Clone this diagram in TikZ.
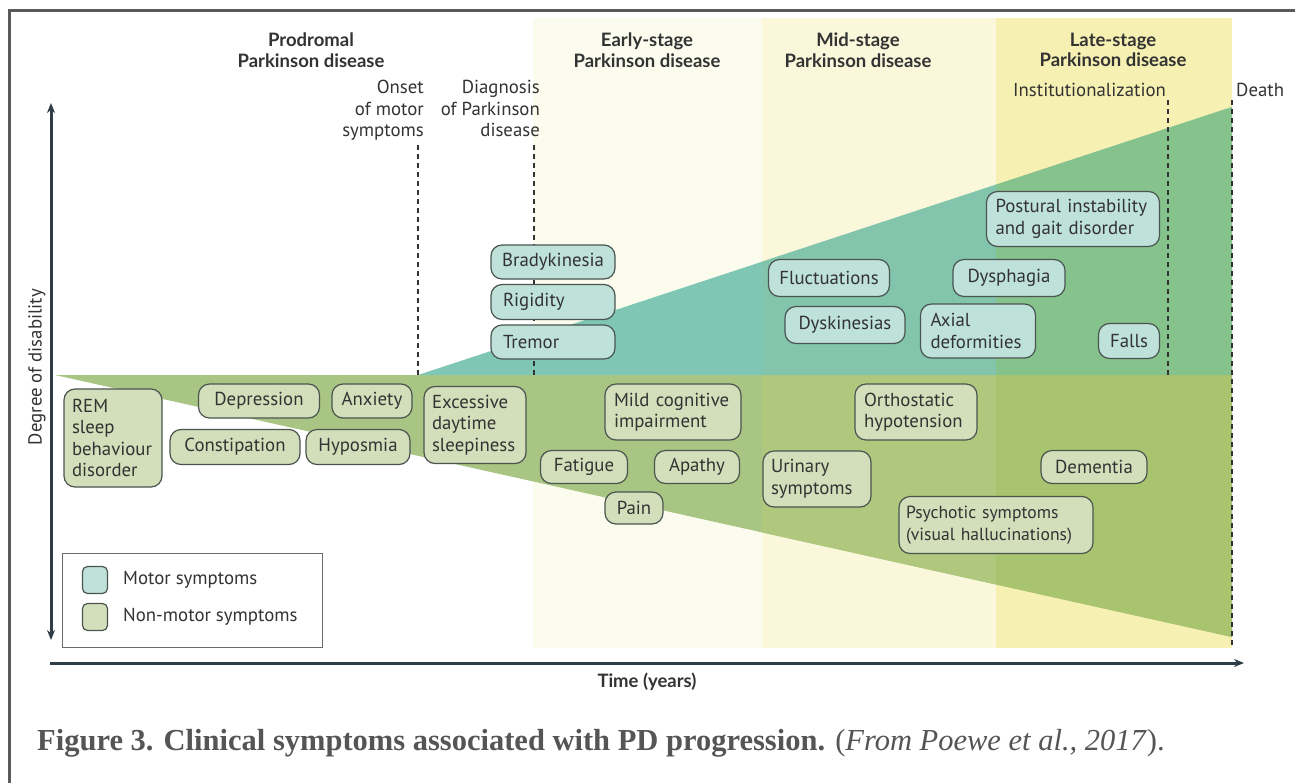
\documentclass[tikz,border=0pt]{standalone}
\usepackage{fontspec}
\setmainfont{PT Sans}
\newfontfamily\hdrfont{Lato}
\newfontfamily\capfont{Liberation Serif}
\usetikzlibrary{arrows.meta}
\definecolor{framegray}{HTML}{5A5A5A}
\definecolor{earlyband}{HTML}{FCFCEE}
\definecolor{midband}{HTML}{FAF7DA}
\definecolor{lateband}{HTML}{F6F0B3}
\definecolor{tealA}{HTML}{80C6B5}
\definecolor{tealB}{HTML}{82C4AC}
\definecolor{tealC}{HTML}{86C28C}
\definecolor{greenA}{HTML}{A8C584}
\definecolor{greenB}{HTML}{AFC87D}
\definecolor{greenC}{HTML}{A9C46E}
\definecolor{motorfill}{HTML}{BEE1DA}
\definecolor{nmfill}{HTML}{D3DEBA}
\definecolor{boxline}{HTML}{4A5550}
\definecolor{txt}{HTML}{333333}
\definecolor{axiscol}{HTML}{2F3E46}
\definecolor{capgray}{HTML}{555555}
\definecolor{leggray}{HTML}{6A6A6A}
\newcommand{\boxfont}{\fontsize{18.8}{21.5}\selectfont}
\newcommand{\hdrsize}{\hdrfont\bfseries\fontsize{18.5}{20.5}\selectfont}
\tikzset{
  symbox/.style={draw=boxline, line width=1.2pt, rounded corners=11pt, inner sep=0pt, font=\boxfont, text=txt},
  motor/.style={symbox, fill=motorfill},
  nonmotor/.style={symbox, fill=nmfill},
  lefttext/.style={align=left, text width=#1},
  hdr/.style={font=\hdrsize, align=center, text=txt},
  lbl/.style={font=\boxfont, text=txt, inner sep=0pt},
  vline/.style={draw=txt, line width=1.1pt, dash pattern=on 5pt off 4pt},
  axis/.style={draw=axiscol, line width=3pt}
}
\begin{document}
\begin{tikzpicture}[x=1pt,y=-1pt]
\useasboundingbox (0,0) rectangle (1295,782);
\clip (0,0) rectangle (1295,782);
\fill[white] (0,0) rectangle (1295,782);
% stage bands
\fill[earlyband] (533,18) rectangle (762,648);
\fill[midband] (762,18) rectangle (996,648);
\fill[lateband] (996,18) rectangle (1232,648);
% triangles
\coordinate (nmA) at (55,375);
\coordinate (nmB) at (1232,375);
\coordinate (nmC) at (1232,637);
\coordinate (mA) at (418,375);
\coordinate (mB) at (1232,107);
\coordinate (mC) at (1232,375);
\fill[greenA] (nmA) -- (nmB) -- (nmC) -- cycle;
\fill[tealA] (mA) -- (mB) -- (mC) -- cycle;
\begin{scope}
  \clip (762,18) rectangle (996,648);
  \fill[greenB] (nmA) -- (nmB) -- (nmC) -- cycle;
  \fill[tealB] (mA) -- (mB) -- (mC) -- cycle;
\end{scope}
\begin{scope}
  \clip (996,18) rectangle (1232,648);
  \fill[greenC] (nmA) -- (nmB) -- (nmC) -- cycle;
  \fill[tealC] (mA) -- (mB) -- (mC) -- cycle;
\end{scope}
% frame
\draw[framegray, line width=3pt] (9,10) rectangle (1320,810);
% dashed event lines
\coordinate (onT) at (418,145); \coordinate (onB) at (418,375);
\coordinate (diT) at (534,145); \coordinate (diB) at (534,375);
\coordinate (inT) at (1168,100); \coordinate (inB) at (1168,375);
\coordinate (deT) at (1232,100); \coordinate (deB) at (1232,648);
\draw[vline] (onT) -- (onB);
\draw[vline] (diT) -- (diB);
\draw[vline] (inT) -- (inB);
\draw[vline] (deT) -- (deB);
% headers
\node[hdr] (hPro) at (311,50) {Prodromal\\Parkinson disease};
\node[hdr] (hEarly) at (647,50) {Early-stage\\Parkinson disease};
\node[hdr] (hMid) at (858,50) {Mid-stage\\Parkinson disease};
\node[hdr] (hLate) at (1113,50) {Late-stage\\Parkinson disease};
% event labels
\node[lbl, align=right, anchor=north east] (lOnset) at (424,80) {Onset\\of motor\\symptoms};
\node[lbl, align=right, anchor=north east] (lDiag) at (540,80) {Diagnosis\\of Parkinson\\disease};
\node[lbl, anchor=west] (lInst) at (1013,90) {Institutionalization};
\node[lbl, anchor=west] (lDeath) at (1236,90) {Death};
% axes
\coordinate (yTop) at (51,103); \coordinate (yBot) at (51,640);
\coordinate (xL) at (50,663); \coordinate (xR) at (1244,663);
\draw[axis, {Stealth[length=10pt,width=8pt]}-{Stealth[length=10pt,width=8pt]}] (yBot) -- (yTop);
\draw[axis, -{Stealth[length=10pt,width=8pt]}] (xL) -- (xR);
\node[lbl, rotate=90] (yLab) at (37,367) {Degree of disability};
\node[font=\hdrfont\bfseries\fontsize{18.5}{21}\selectfont, text=txt] (xLab) at (647,682) {Time (years)};
% motor symptom boxes
\node[motor, minimum width=124, minimum height=34] (brady) at (553,262) {Bradykinesia};
\node[motor, minimum width=124, minimum height=35, lefttext=100] (rig) at (553,302) {Rigidity};
\node[motor, minimum width=124, minimum height=34, lefttext=100] (trem) at (553,342) {Tremor};
\node[motor, minimum width=121, minimum height=37] (fluct) at (829,278) {Fluctuations};
\node[motor, minimum width=120, minimum height=37] (dysk) at (845,325) {Dyskinesias};
\node[motor, minimum width=115, minimum height=54, lefttext=95] (axial) at (978,331) {Axial\\deformities};
\node[motor, minimum width=112, minimum height=37] (dysph) at (1009,278) {Dysphagia};
\node[motor, minimum width=173, minimum height=55, lefttext=155] (post) at (1073,219) {Postural instability\\and gait disorder};
\node[motor, minimum width=61, minimum height=35] (falls) at (1129,341) {Falls};
% non-motor symptom boxes
\node[nonmotor, minimum width=98, minimum height=98, lefttext=82] (rem) at (113,438) {REM\\sleep\\behaviour\\disorder};
\node[nonmotor, minimum width=121, minimum height=34] (depr) at (259,401) {Depression};
\node[nonmotor, minimum width=80, minimum height=34] (anx) at (372,401) {Anxiety};
\node[nonmotor, minimum width=130, minimum height=35] (const) at (235,447) {Constipation};
\node[nonmotor, minimum width=104, minimum height=35] (hypo) at (358,447) {Hyposmia};
\node[nonmotor, minimum width=102, minimum height=77, lefttext=86] (eds) at (475,425) {Excessive\\daytime\\sleepiness};
\node[nonmotor, minimum width=136, minimum height=56, lefttext=118] (mci) at (673,412) {Mild cognitive\\impairment};
\node[nonmotor, minimum width=87, minimum height=33] (fat) at (584,467) {Fatigue};
\node[nonmotor, minimum width=85, minimum height=33] (apa) at (697,467) {Apathy};
\node[nonmotor, minimum width=58, minimum height=32] (pain) at (634,508) {Pain};
\node[nonmotor, minimum width=108, minimum height=56, lefttext=92] (uri) at (817,479) {Urinary\\symptoms};
\node[nonmotor, minimum width=122, minimum height=56, lefttext=104] (orth) at (916,412) {Orthostatic\\hypotension};
\node[nonmotor, minimum width=106, minimum height=33] (dem) at (1094,467) {Dementia};
\node[nonmotor, minimum width=194, minimum height=57, lefttext=180, font=\fontsize{17.6}{21.5}\selectfont] (psy) at (996,525) {Psychotic symptoms\\(visual hallucinations)};
% legend
\node[draw=leggray, line width=1pt, fill=white, minimum width=260, minimum height=94, inner sep=0pt] (legend) at (192,600) {};
\node[motor, minimum width=25, minimum height=27, rounded corners=5pt] (swM) at (95,580) {};
\node[nonmotor, minimum width=25, minimum height=27, rounded corners=5pt] (swN) at (95,617) {};
\node[lbl, anchor=west] (tM) at (123,580) {Motor symptoms};
\node[lbl, anchor=west] (tN) at (123,617) {Non-motor symptoms};
% caption
\node[anchor=base west, inner sep=0pt, text=capgray, font=\capfont\fontsize{30.5}{34}\selectfont] (cap) at (37,750)
  {\textbf{Figure 3. Clinical symptoms associated with PD progression.} (\textit{From Poewe et al., 2017}).};
\end{tikzpicture}
\end{document}
